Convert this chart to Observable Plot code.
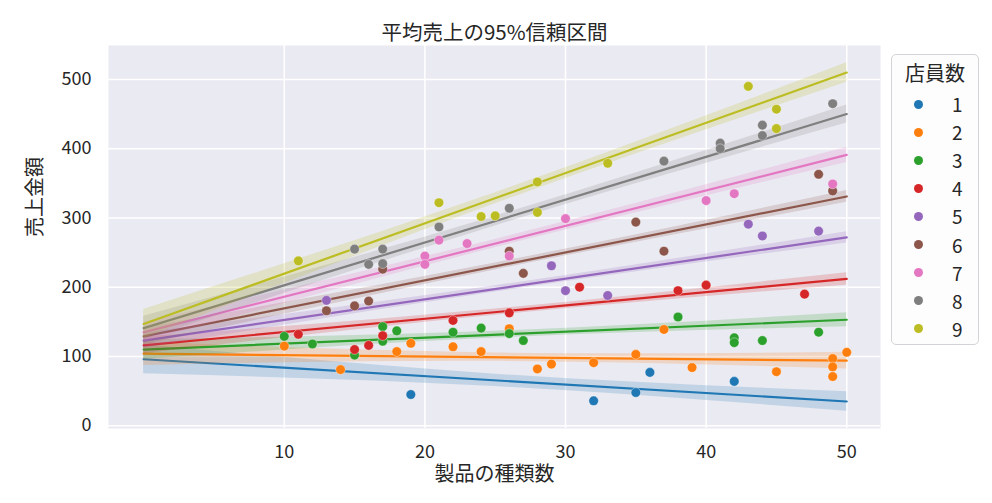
<!DOCTYPE html>
<html>
<head>
<meta charset="utf-8">
<script src="https://cdn.jsdelivr.net/npm/d3@7"></script>
<script src="https://cdn.jsdelivr.net/npm/@observablehq/plot@0.6"></script>
<style>
  html, body { margin: 0; padding: 0; background: #fff; }
  #wrap { position: relative; width: 992px; height: 503px; font-family: "Noto Sans CJK JP", "Noto Sans", sans-serif; color: #262626; }
  #legend { position: absolute; left: 891px; top: 54px; width: 88px; height: 291px; box-sizing: border-box;
            border: 1px solid #d4d4d8; border-radius: 5px; background: #fdfdfe; }
  #legend .ttl { position: absolute; left: 0; width: 100%; top: 3px; text-align: center; font-size: 20px; line-height: 30px; }
  #legend .row { position: absolute; left: 0; width: 100%; height: 28px; }
  #legend .dot { position: absolute; left: 22px; top: 9.5px; width: 9px; height: 9px; border-radius: 50%; }
  #legend .lab { position: absolute; left: 60px; top: 0; font-size: 19px; line-height: 28px; }
</style>
</head>
<body>
<div id="wrap"></div>
<script>
// ---- data ----
const staff = [1, 2, 3, 4, 5, 6, 7, 8, 9];
const palette = ["#1f77b4", "#ff7f0e", "#2ca02c", "#d62728", "#9467bd", "#8c564b", "#e377c2", "#7f7f7f", "#bcbd22"];
const xTicks = [10, 20, 30, 40, 50];
const yTicks = [0, 100, 200, 300, 400, 500];

// predicted mean sales at 製品の種類数 = 0 and 50, per 店員数
const lineAt0  = [96, 104, 110, 116, 123, 129, 135, 141, 147];
const lineAt50 = [35, 94, 153, 212, 272, 331, 391, 450, 510];
// CI half-width at 製品の種類数 = 0, 25, 50
const ciX = [0, 25, 50];
const ciHalf0  = [21, 17, 14, 12, 11, 12, 14, 17, 21];
const ciHalf25 = [9, 6, 5, 4.5, 4.5, 5, 6, 7, 8];
const ciHalf50 = [14, 12, 10, 9, 8, 8.5, 11, 13, 14];

// observed points [製品の種類数, 売上金額]
const s1 = [[19,45],[32,36],[35,48],[36,77],[42,64]];
const s2 = [[10,115],[14,81],[18,107],[19,119],[22,114],[24,107],[26,140],[28,82],[29,89],[32,91],[35,103],[37,139],[39,84],[45,78],[49,97],[49,85],[49,71],[50,106]];
const s3 = [[10,129],[12,118],[15,102],[17,143],[17,122],[18,137],[22,135],[24,141],[26,133],[27,123],[38,157],[42,127],[42,120],[44,123],[48,135]];
const s4 = [[11,132],[15,110],[16,116],[17,130],[22,152],[26,163],[31,200],[38,195],[40,203],[47,190]];
const s5 = [[13,181],[29,231],[30,195],[33,188],[43,291],[44,274],[48,281]];
const s6 = [[13,166],[15,173],[16,180],[17,226],[26,252],[27,220],[35,294],[37,252],[48,363],[49,339]];
const s7 = [[20,245],[20,233],[21,268],[23,263],[26,245],[30,299],[40,325],[42,335],[49,349]];
const s8 = [[15,255],[16,233],[17,255],[17,234],[21,287],[26,314],[37,382],[41,408],[41,400],[44,434],[44,419],[49,465]];
const s9 = [[11,238],[21,322],[24,302],[25,303],[28,352],[28,308],[33,379],[43,490],[45,457],[45,429]];
const series = [s1, s2, s3, s4, s5, s6, s7, s8, s9];

// ---- tables ----
const pointRows = series.flatMap((pts, i) => pts.map(([x, y]) => ({staff: staff[i], x, y})));
const lineRows = staff.flatMap((s, i) => [{staff: s, x: 0, y: lineAt0[i]}, {staff: s, x: 50, y: lineAt50[i]}]);
const bandRows = staff.flatMap((s, i) => {
  const c = [lineAt0[i], (lineAt0[i] + lineAt50[i]) / 2, lineAt50[i]];
  const h = [ciHalf0[i], ciHalf25[i], ciHalf50[i]];
  return ciX.map((x, k) => ({staff: s, x, lo: c[k] - h[k], hi: c[k] + h[k]}));
});

const font = '"Noto Sans CJK JP", "Noto Sans", sans-serif';
const perSeries = staff.flatMap(s => [
  Plot.areaY(bandRows.filter(d => d.staff === s), {x: "x", y1: "lo", y2: "hi", fill: "staff", fillOpacity: 0.2, curve: "natural"}),
  Plot.line(lineRows.filter(d => d.staff === s), {x: "x", y: "y", stroke: "staff", strokeWidth: 2.2})
]);

const chart = Plot.plot({
  width: 992,
  height: 503,
  marginLeft: 108,
  marginRight: 112,
  marginTop: 45,
  marginBottom: 75,
  style: {fontFamily: font, fontSize: "18px", color: "#262626", background: "transparent"},
  x: {domain: [-2.5, 52.4], label: null},
  y: {domain: [-4, 549], label: null},
  color: {type: "ordinal", domain: staff, range: palette},
  marks: [
    Plot.frame({fill: "#eaeaf2", stroke: null}),
    Plot.gridX(xTicks, {stroke: "#fff", strokeOpacity: 1, strokeWidth: 1.5}),
    Plot.gridY(yTicks, {stroke: "#fff", strokeOpacity: 1, strokeWidth: 1.5}),
    Plot.axisX(xTicks, {tickSize: 0, tickPadding: 17, fontSize: 18, label: null}),
    Plot.axisY(yTicks, {tickSize: 0, tickPadding: 17, fontSize: 18, label: null}),
    ...perSeries,
    Plot.dot(pointRows, {x: "x", y: "y", fill: "staff", r: 4.8, stroke: "#fff", strokeWidth: 0.4}),
    Plot.text(["平均売上の95%信頼区間"], {frameAnchor: "top", dy: -20, fontSize: 20.5, fill: "#262626"}),
    Plot.text(["製品の種類数"], {frameAnchor: "bottom", dy: 52, fontSize: 20, fill: "#262626"}),
    Plot.text(["売上金額"], {frameAnchor: "left", dx: -73, rotate: -90, fontSize: 20, fill: "#262626"})
  ]
});

const wrap = document.getElementById("wrap");
wrap.appendChild(chart);

// legend
const lg = document.createElement("div");
lg.id = "legend";
const ttl = document.createElement("div");
ttl.className = "ttl";
ttl.textContent = "店員数";
lg.appendChild(ttl);
staff.forEach((s, i) => {
  const row = document.createElement("div");
  row.className = "row";
  row.style.top = (35 + i * 28.1) + "px";
  const dot = document.createElement("div");
  dot.className = "dot";
  dot.style.background = palette[i];
  const lab = document.createElement("div");
  lab.className = "lab";
  lab.textContent = String(s);
  row.appendChild(dot);
  row.appendChild(lab);
  lg.appendChild(row);
});
wrap.appendChild(lg);
</script>
</body>
</html>
